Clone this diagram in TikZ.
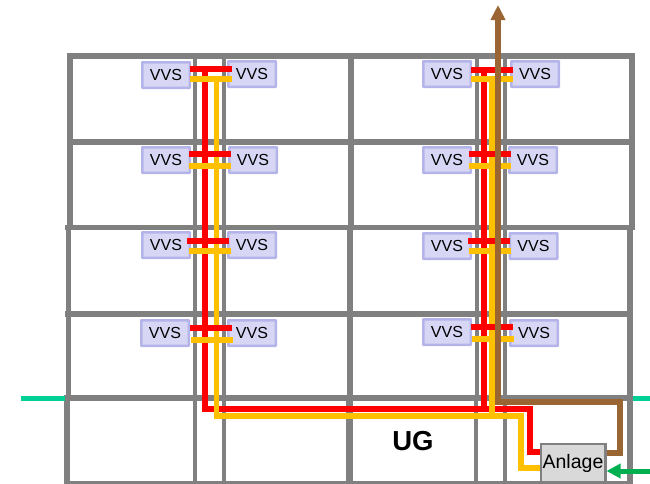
\documentclass[tikz,border=0pt]{standalone}
\usepackage{fontspec}
\setmainfont{Liberation Sans}
\usetikzlibrary{arrows.meta,positioning}
\usetikzlibrary{calc}

\definecolor{wallgray}{HTML}{808080}
\definecolor{vvsfill}{HTML}{D7D7F5}
\definecolor{vvsdraw}{HTML}{B4B4EA}
\definecolor{plantfill}{HTML}{D9D9D9}
\definecolor{pipered}{HTML}{FF0000}
\definecolor{pipeyellow}{HTML}{FFC000}
\definecolor{pipebrown}{HTML}{996633}
\definecolor{pipegreen}{HTML}{00B050}
\definecolor{groundline}{HTML}{00D095}

\begin{document}
\begin{tikzpicture}[
    x=1pt,
    y=-1pt,
    >=Stealth,
    wall/.style={
        draw=wallgray,
        line width=5.5pt,
        line cap=rect,
        line join=round
    },
    thinwall/.style={
        draw=wallgray,
        line width=4.5pt
    },
    vvs/.style={
        draw=vvsdraw,
        fill=vvsfill,
        line width=2.5pt,
        rounded corners=0.5pt,
        minimum width=47.5pt,
        minimum height=25.5pt,
        inner sep=0pt,
        font=\fontsize{16}{18}\selectfont
    },
    plant/.style={
        draw=wallgray,
        fill=plantfill,
        line width=2.5pt,
        minimum width=64.5pt,
        minimum height=38pt,
        inner sep=0pt,
        font=\fontsize{19.5}{22}\selectfont
    },
    redpipe/.style={
        draw=pipered,
        line width=5.5pt
    },
    yellowpipe/.style={
        draw=pipeyellow,
        line width=5.5pt
    },
    brownpipe/.style={
        draw=pipebrown,
        line width=5.5pt
    }
]

\useasboundingbox (0,0) rectangle (650,483);

% Floors
\draw[wall] (70,56) -- (632,56);
\draw[wall] (70,142) -- (632,142);
\draw[wall] (68,227.5) -- (632,227.5);
\draw[wall] (68,314) -- (630,314);
\draw[wall] (67,398) -- (630,398);
\draw[draw=wallgray,line width=3pt] (67,482) -- (630,482);

% Walls
\draw[wall] (70,56) -- (70,227.5) (68.5,227.5) -- (68.5,398);
\draw[wall] (632,56) -- (632,227.5) (630,227.5) -- (630,398);
\draw[wall] (351,56) -- (351,227.5) (350,227.5) -- (350,398);
\draw[thinwall] (195,56) -- (195,398);
\draw[thinwall] (224,56) -- (224,398);
\draw[thinwall] (477,56) -- (477,398);
\draw[thinwall] (505,56) -- (505,398);

% Basement walls
\draw[wall] (67,398) -- (67,483);
\draw[wall] (630,398) -- (630,483);
\draw[draw=wallgray,line width=7.5pt] (349.5,398) -- (349.5,483);
\draw[thinwall] (195,398) -- (195,483);
\draw[thinwall] (224,398) -- (224,483);
\draw[thinwall] (476,398) -- (476,483);
\draw[thinwall] (505,398) -- (505,483);

% Ground level
\draw[groundline,line width=5pt] (21,398) -- (65,398);
\draw[groundline,line width=5pt] (633,398) -- (650,398);

% Left riser
\node[vvs] (al1) at (166,75) {VVS};
\node[vvs] (ar1) at (252,74) {VVS};
\node[vvs] (al2) at (166,160) {VVS};
\node[vvs] (ar2) at (253,160) {VVS};
\node[vvs] (al3) at (166,245) {VVS};
\node[vvs] (ar3) at (252,245) {VVS};
\node[vvs] (al4) at (165,333) {VVS};
\node[vvs] (ar4) at (252,333) {VVS};

% Right riser
\node[vvs] (bl1) at (447,74) {VVS};
\node[vvs] (br1) at (535,74) {VVS};
\node[vvs] (bl2) at (447,160) {VVS};
\node[vvs] (br2) at (533,160) {VVS};
\node[vvs] (bl3) at (447,246) {VVS};
\node[vvs] (br3) at (533.5,246) {VVS};
\node[vvs] (bl4) at (447,332) {VVS};
\node[vvs] (br4) at (534,333) {VVS};

% Plant room
\node[plant] (anlage) at (573,463) {Anlage};
\node[font=\fontsize{27.5}{30}\selectfont\bfseries,inner sep=0pt] (ug) at (413,441) {UG};

% Feed
\draw[redpipe] (205,67) -- (205,409) -- (530,409) -- (530,452) -- (anlage.west |- 530,452);
\draw[yellowpipe] (216.5,77) -- (216.5,416) -- (521,416) -- (521,468) -- (anlage.west |- 521,468);
\draw[redpipe] (484,70) -- (484,409);
\draw[yellowpipe] (492,79) -- (492,416);

% Branches
\draw[redpipe] (190,69) -- (232,69);
\draw[yellowpipe] (190,79) -- (232,79);
\draw[redpipe] (189,154) -- (231,154);
\draw[yellowpipe] (189,166) -- (231,166);
\draw[redpipe] (187,241) -- (229,241);
\draw[yellowpipe] (189,251) -- (231,251);
\draw[redpipe] (190,328) -- (232,328);
\draw[yellowpipe] (191,340) -- (233,340);

\draw[redpipe] (471,70) -- (513,70);
\draw[yellowpipe] (471,79) -- (513,79);
\draw[redpipe] (469,154) -- (511,154);
\draw[yellowpipe] (469,166) -- (511,166);
\draw[redpipe] (468,241) -- (510,241);
\draw[yellowpipe] (469,251) -- (511,251);
\draw[redpipe] (471,327) -- (513,327);
\draw[yellowpipe] (472,339) -- (514,339);

% Exhaust and supply
\draw[brownpipe,-{Stealth[length=15pt,width=14pt,inset=0pt]}] (anlage.east |- 620,453) -- (620,453) -- (620,402) -- (498,402) -- (498,5);
\coordinate (supply) at (650,471);
\draw[pipegreen,line width=5pt,-{Stealth[length=14pt,width=14pt,inset=0pt]}] (supply) -- (anlage.east |- supply);

\end{tikzpicture}
\end{document}
